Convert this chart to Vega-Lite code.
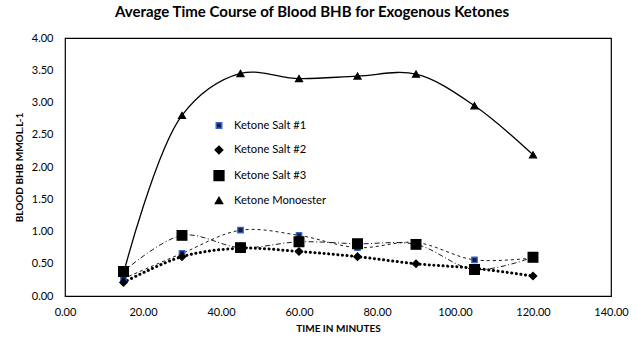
{
  "$schema": "https://vega.github.io/schema/vega-lite/v6.json",
  "width": 546,
  "height": 258,
  "autosize": {"type": "none"},
  "padding": {"left": 65, "top": 38, "right": 24, "bottom": 45},
  "background": "white",
  "title": {
    "text": "Average Time Course of Blood BHB for Exogenous Ketones",
    "font": "Lato",
    "fontSize": 15,
    "fontWeight": "bold",
    "color": "#000",
    "anchor": "middle",
    "dx": -26,
    "offset": 12
  },
  "config": {
    "view": {"stroke": "#000", "strokeWidth": 1.2},
    "font": "Lato",
    "axis": {
      "grid": false,
      "domain": false,
      "ticks": false,
      "labelFlush": false,
      "labelFont": "Lato",
      "labelFontSize": 11,
      "labelColor": "#000",
      "titleFont": "Lato",
      "titleFontSize": 10,
      "titleFontWeight": "bold",
      "titleColor": "#000"
    },
    "legend": {
      "labelFont": "Lato",
      "labelFontSize": 11.2,
      "labelColor": "#000"
    }
  },
  "data": {
    "values": [
      {"series": "Ketone Salt #1", "time": 15, "bhb": 0.27},
      {"series": "Ketone Salt #1", "time": 30, "bhb": 0.66},
      {"series": "Ketone Salt #1", "time": 45, "bhb": 1.02},
      {"series": "Ketone Salt #1", "time": 60, "bhb": 0.94},
      {"series": "Ketone Salt #1", "time": 75, "bhb": 0.75},
      {"series": "Ketone Salt #1", "time": 90, "bhb": 0.83},
      {"series": "Ketone Salt #1", "time": 105, "bhb": 0.56},
      {"series": "Ketone Salt #1", "time": 120, "bhb": 0.59},
      {"series": "Ketone Salt #2", "time": 15, "bhb": 0.21},
      {"series": "Ketone Salt #2", "time": 30, "bhb": 0.61},
      {"series": "Ketone Salt #2", "time": 45, "bhb": 0.74},
      {"series": "Ketone Salt #2", "time": 60, "bhb": 0.69},
      {"series": "Ketone Salt #2", "time": 75, "bhb": 0.61},
      {"series": "Ketone Salt #2", "time": 90, "bhb": 0.5},
      {"series": "Ketone Salt #2", "time": 105, "bhb": 0.43},
      {"series": "Ketone Salt #2", "time": 120, "bhb": 0.31},
      {"series": "Ketone Salt #3", "time": 15, "bhb": 0.38},
      {"series": "Ketone Salt #3", "time": 30, "bhb": 0.94},
      {"series": "Ketone Salt #3", "time": 45, "bhb": 0.75},
      {"series": "Ketone Salt #3", "time": 60, "bhb": 0.84},
      {"series": "Ketone Salt #3", "time": 75, "bhb": 0.81},
      {"series": "Ketone Salt #3", "time": 90, "bhb": 0.8},
      {"series": "Ketone Salt #3", "time": 105, "bhb": 0.41},
      {"series": "Ketone Salt #3", "time": 120, "bhb": 0.6},
      {"series": "Ketone Monoester", "time": 15, "bhb": 0.35},
      {"series": "Ketone Monoester", "time": 30, "bhb": 2.8},
      {"series": "Ketone Monoester", "time": 45, "bhb": 3.45},
      {"series": "Ketone Monoester", "time": 60, "bhb": 3.37},
      {"series": "Ketone Monoester", "time": 75, "bhb": 3.41},
      {"series": "Ketone Monoester", "time": 90, "bhb": 3.44},
      {"series": "Ketone Monoester", "time": 105, "bhb": 2.95},
      {"series": "Ketone Monoester", "time": 120, "bhb": 2.19}
    ]
  },
  "encoding": {
    "x": {
      "field": "time",
      "type": "quantitative",
      "scale": {"domain": [0, 140], "nice": false, "zero": false},
      "axis": {"values": [0, 20, 40, 60, 80, 100, 120, 140], "format": ".2f", "title": "TIME IN MINUTES", "labelPadding": 10, "titlePadding": 6}
    },
    "y": {
      "field": "bhb",
      "type": "quantitative",
      "scale": {"domain": [0, 4], "nice": false},
      "axis": {"values": [0, 0.5, 1, 1.5, 2, 2.5, 3, 3.5, 4], "format": ".2f", "title": "BLOOD BHB MMOL.L-1", "labelPadding": 12, "titlePadding": 7}
    }
  },
  "layer": [
    {
      "transform": [{"filter": "datum.series === 'Ketone Salt #1'"}],
      "mark": {"type": "line", "interpolate": "catmull-rom", "color": "#000", "strokeWidth": 0.9, "strokeDash": [3, 3]}
    },
    {
      "transform": [{"filter": "datum.series === 'Ketone Salt #2'"}],
      "mark": {"type": "line", "interpolate": "catmull-rom", "color": "#000", "strokeWidth": 3, "strokeDash": [0.1, 4.5], "strokeCap": "round"}
    },
    {
      "transform": [{"filter": "datum.series === 'Ketone Salt #3'"}],
      "mark": {"type": "line", "interpolate": "catmull-rom", "color": "#000", "strokeWidth": 0.9, "strokeDash": [5, 2.5, 1, 2.5]}
    },
    {
      "transform": [{"filter": "datum.series === 'Ketone Monoester'"}],
      "mark": {"type": "line", "interpolate": "catmull-rom", "color": "#000", "strokeWidth": 1.3}
    },
    {
      "mark": {"type": "point", "filled": false, "opacity": 1, "strokeWidth": 1.2},
      "encoding": {
        "shape": {
          "field": "series",
          "type": "nominal",
          "scale": {
            "domain": ["Ketone Salt #1", "Ketone Salt #2", "Ketone Salt #3", "Ketone Monoester"],
            "range": ["square", "diamond", "square", "triangle-up"]
          },
          "legend": {
            "title": null,
            "orient": "none",
            "legendX": 148,
            "legendY": 82,
            "rowPadding": 10.3,
            "labelOffset": 9,
            "padding": 0
          }
        },
        "size": {
          "field": "series",
          "type": "nominal",
          "scale": {
            "type": "ordinal",
            "domain": ["Ketone Salt #1", "Ketone Salt #2", "Ketone Salt #3", "Ketone Monoester"],
            "range": [30, 55, 95, 50]
          }
        },
        "fill": {
          "field": "series",
          "type": "nominal",
          "scale": {
            "domain": ["Ketone Salt #1", "Ketone Salt #2", "Ketone Salt #3", "Ketone Monoester"],
            "range": ["#14213d", "#000000", "#000000", "#000000"]
          }
        },
        "stroke": {
          "field": "series",
          "type": "nominal",
          "scale": {
            "domain": ["Ketone Salt #1", "Ketone Salt #2", "Ketone Salt #3", "Ketone Monoester"],
            "range": ["#3465d0", "#000000", "#000000", "#000000"]
          }
        }
      }
    }
  ]
}
